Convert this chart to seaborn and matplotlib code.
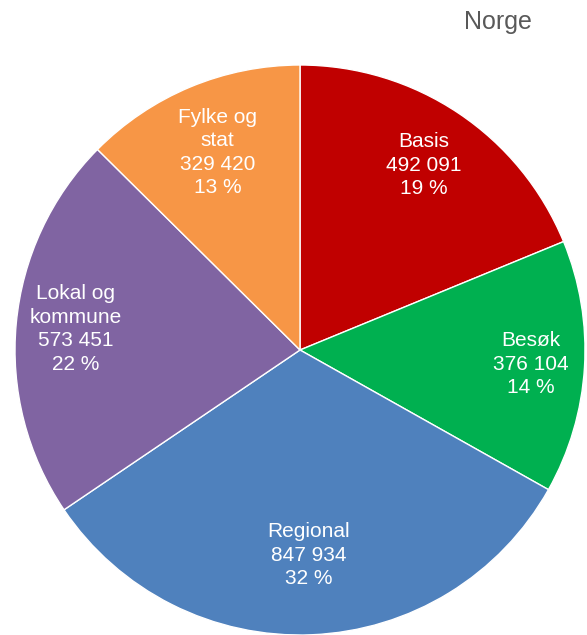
import numpy as np
import matplotlib.pyplot as plt
import seaborn as sns

# Data
categories = ["Basis", "Besøk", "Regional", "Lokal og\nkommune", "Fylke og\nstat"]
values = [492091, 376104, 847934, 573451, 329420]
colors = ["#C00000", "#00B050", "#4F81BD", "#8064A2", "#F79646"]

# label distance from centre (fraction of radius), per wedge
label_r = [0.78, 0.81, 0.72, 0.79, 0.75]

sns.set_theme(style="white")
plt.rcParams["font.family"] = ["Liberation Sans", "DejaVu Sans"]

fig = plt.figure(figsize=(5.87, 6.35), dpi=100)
ax = fig.add_axes([15 / 587, 0.0, 570 / 587, 570 / 635])

wedges, _ = ax.pie(values, colors=colors, startangle=90, counterclock=False,
                   wedgeprops=dict(edgecolor="white", linewidth=1))
ax.set_xlim(-1, 1)
ax.set_ylim(-1, 1)
ax.set_aspect("equal")

total = sum(values)
for w, cat, v, r in zip(wedges, categories, values, label_r):
    ang = np.deg2rad((w.theta1 + w.theta2) / 2)
    x, y = r * np.cos(ang), r * np.sin(ang)
    txt = f"{cat}\n{v:,}".replace(",", " ") + f"\n{round(v / total * 100):.0f} %"
    ax.text(x, y, txt, ha="center", va="center", color="white", fontsize=15,
            linespacing=1.3)

fig.text(498 / 587, 1 - 22 / 635, "Norge", ha="center", va="center",
         fontsize=18, color="#595959")

fig.savefig("out.png", dpi=100)
